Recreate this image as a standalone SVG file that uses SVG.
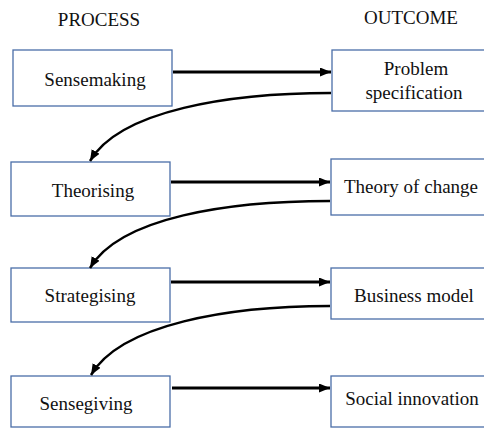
<svg xmlns="http://www.w3.org/2000/svg" width="484" height="428" viewBox="0 0 484 428">
<style>
.box{fill:#ffffff;stroke:#4a6ea8;stroke-width:1.3}
.t{font-family:"Liberation Serif","Times New Roman",serif;font-size:19px;fill:#111111;text-anchor:middle}
.a{fill:none;stroke:#000000;stroke-width:3}
.c{fill:none;stroke:#000000;stroke-width:2.5}
</style>
<defs>
<marker id="ah" markerUnits="userSpaceOnUse" markerWidth="12" markerHeight="10" refX="11" refY="4.5" orient="auto">
<path d="M0,0 L11,4.5 L0,9 z" fill="#000000"/>
</marker>
</defs>
<rect width="484" height="428" fill="#ffffff"/>
<text class="t" x="99" y="26">PROCESS</text>
<text class="t" x="411" y="24">OUTCOME</text>
<g id="sensemaking"><rect class="box" x="13" y="50" width="159" height="56"/><text class="t" x="95" y="86">Sensemaking</text></g>
<g id="problem"><rect class="box" x="332" y="50" width="160" height="61"/><text class="t" x="416" y="75">Problem</text><text class="t" x="414" y="99">specification</text></g>
<g id="theorising"><rect class="box" x="11" y="162" width="159" height="54"/><text class="t" x="93" y="197">Theorising</text></g>
<g id="theory"><rect class="box" x="331" y="159" width="160" height="56"/><text class="t" x="411" y="193">Theory of change</text></g>
<g id="strategising"><rect class="box" x="11" y="268" width="159" height="54"/><text class="t" x="90" y="302">Strategising</text></g>
<g id="business"><rect class="box" x="331" y="268" width="160" height="51"/><text class="t" x="414" y="302">Business model</text></g>
<g id="sensegiving"><rect class="box" x="11" y="376" width="159" height="51"/><text class="t" x="86" y="410">Sensegiving</text></g>
<g id="social"><rect class="box" x="331" y="376" width="160" height="51"/><text class="t" x="412" y="405">Social innovation</text></g>
<g id="connectors">
<path class="a" d="M173,72 L331,72" marker-end="url(#ah)"/>
<path class="a" d="M171,182 L330,182" marker-end="url(#ah)"/>
<path class="a" d="M171,282 L330,282" marker-end="url(#ah)"/>
<path class="a" d="M172,388 L330,388" marker-end="url(#ah)"/>
<path class="c" d="M331,93 C230,93 120,110 90,161" marker-end="url(#ah)"/>
<path class="c" d="M330,201 C229,201 120,217 90,268" marker-end="url(#ah)"/>
<path class="c" d="M330,306 C229,306 121,324 91,375" marker-end="url(#ah)"/>
</g>
</svg>
